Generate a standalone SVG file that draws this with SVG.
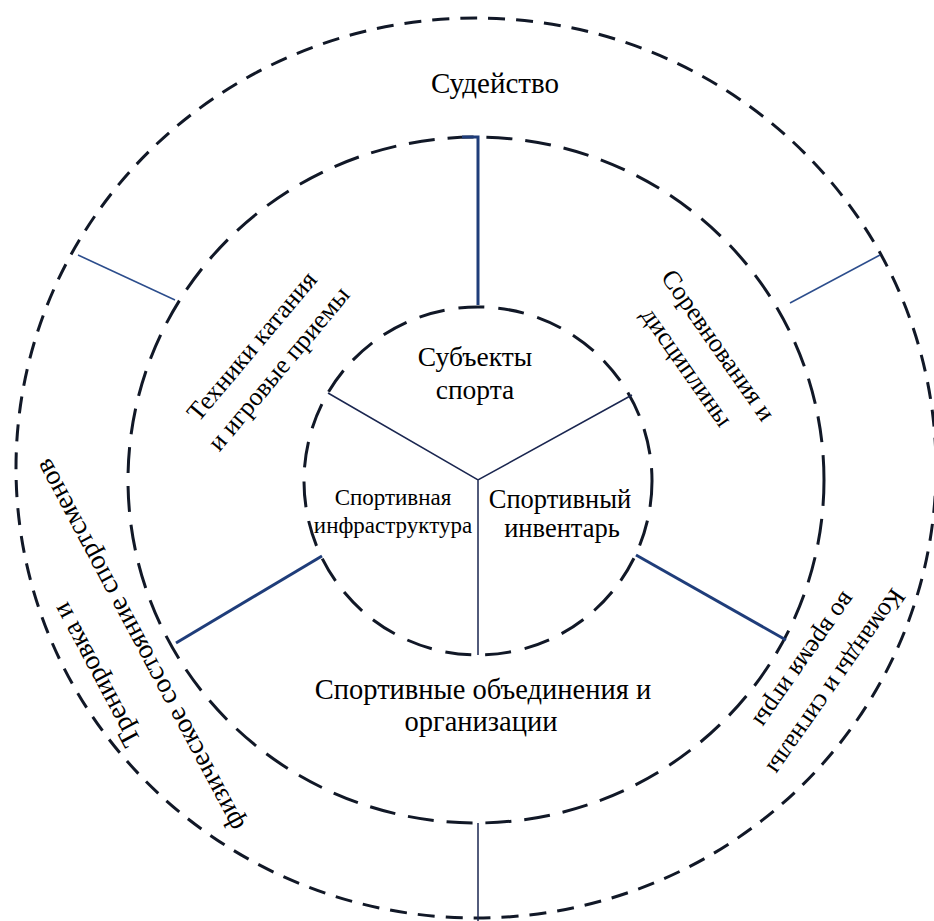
<svg xmlns="http://www.w3.org/2000/svg" width="934" height="921" viewBox="0 0 934 921">
<style>
.ring{fill:none;stroke:#111827;stroke-width:3}
.outer{stroke-dasharray:17 11}
.mid{stroke-dasharray:26 13}
.inn{stroke-dasharray:26 14}
.thick{stroke:#1f3d7a;stroke-width:3;fill:none}
.thin{stroke:#2c4d8c;stroke-width:1.5;fill:none}
.dark{stroke:#1a2650;stroke-width:1.5;fill:none}
text{font-family:"Liberation Serif","Times New Roman",serif;fill:#000;text-anchor:middle}
.l{font-size:26px}
.s{font-size:23px}
.b{font-size:28.5px}
.t{font-size:27.5px}
</style>
<rect width="934" height="921" fill="#fff"/>
<g id="rings">
<ellipse class="ring outer" cx="476" cy="468" rx="460" ry="450"/>
<ellipse class="ring mid" cx="476" cy="480" rx="348" ry="343"/>
<circle class="ring inn" cx="478" cy="481" r="174"/>
</g>
<g id="connectors">
<path class="thick" d="M462,137 H478 V305"/>
<path class="thin" d="M78,255 L175,300"/>
<path class="thin" d="M790,303 L880,255"/>
<path class="thick" d="M322,556 L176,643"/>
<path class="thick" d="M636,555 L786,640"/>
<path class="dark" d="M328,393 L478,480 L632,395 M478,480 V655"/>
<path class="dark" d="M478,823 V921"/>
</g>
<g id="node-sudeystvo"><text x="495" y="93" style="font-size:29px">Судейство</text></g>
<g id="node-subjects"><text x="475" y="366" style="font-size:27.5px">Субъекты</text><text x="475" y="399" style="font-size:27.5px">спорта</text></g>
<g id="node-infra"><text class="s" x="393" y="505">Спортивная</text><text class="s" x="393" y="533">инфраструктура</text></g>
<g id="node-inventory"><text x="560" y="508" style="font-size:26.5px">Спортивный</text><text x="562" y="537" style="font-size:26.5px">инвентарь</text></g>
<g id="node-orgs"><text class="b" x="483" y="699">Спортивные объединения и</text><text class="b" x="481" y="731">организации</text></g>
<g id="node-techniques" transform="translate(253,347) rotate(-50)"><text class="l" x="0" y="7">Техники катания</text><text class="l" x="0" y="42">и игровые приемы</text></g>
<g id="node-competitions" transform="translate(717,346) rotate(55)"><text class="l" x="0" y="7">Соревнования и</text><text class="l" x="0" y="45">дисциплины</text></g>
<g id="node-commands" transform="translate(835,681) rotate(125)"><text class="l" x="0" y="7">Команды и сигналы</text><text class="l" x="0" y="45">во время игры</text></g>
<g id="node-training" transform="translate(98,674) rotate(-118)"><text class="t" x="0" y="7">Тренировка и</text><text class="t" x="6" y="59">физическое состояние спортсменов</text></g>
</svg>
